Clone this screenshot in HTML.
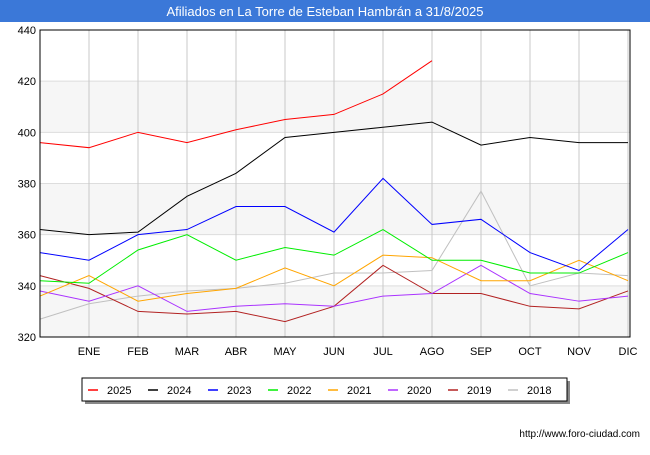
<!DOCTYPE html>
<html><head><meta charset="utf-8"><style>
body{margin:0;background:#fff;font-family:"Liberation Sans",sans-serif}
</style></head><body>
<svg width="650" height="450" xmlns="http://www.w3.org/2000/svg" font-family="Liberation Sans, sans-serif">
<rect x="0" y="0" width="650" height="22" fill="#3b78d8"/>
<text x="325" y="16" font-size="13" fill="#fff" text-anchor="middle">Afiliados en La Torre de Esteban Hambrán a 31/8/2025</text>
<g id="bands"></g><g id="grid"></g><g id="series"></g>
<rect x="40" y="30" width="590" height="307" fill="none" stroke="#000" stroke-width="1"/>
<g id="ticks" font-size="11"></g>
<rect x="85" y="381" width="485" height="23" fill="#888"/>
<rect x="82" y="378" width="485" height="23" fill="#fff" stroke="#000"/>
<g id="legend" font-size="11"></g>
<text x="640" y="437" font-size="10" text-anchor="end" fill="#000">http://www.foro-ciudad.com</text>
</svg>
<script>
const months=["","ENE","FEB","MAR","ABR","MAY","JUN","JUL","AGO","SEP","OCT","NOV","DIC"];
const yTicks=[320,340,360,380,400,420,440];
const seriesNames=["2025","2024","2023","2022","2021","2020","2019","2018"];
const seriesColors=["#ff0000","#000000","#0000ff","#00ee00","#ffa500","#aa33ff","#b22222","#c0c0c0"];
const s2025=[396,394,400,396,401,405,407,415,428];
const s2024=[362,360,361,375,384,398,400,402,404,395,398,396,396];
const s2023=[353,350,360,362,371,371,361,382,364,366,353,346,362];
const s2022=[342,341,354,360,350,355,352,362,350,350,345,345,353];
const s2021=[336,344,334,337,339,347,340,352,351,342,342,350,342];
const s2020=[338,334,340,330,332,333,332,336,337,348,337,334,336];
const s2019=[344,339,330,329,330,326,332,348,337,337,332,331,338];
const s2018=[327,333,336,338,339,341,345,345,346,377,340,345,344];
const allSeries=[s2025,s2024,s2023,s2022,s2021,s2020,s2019,s2018];
const NS="http://www.w3.org/2000/svg";
const X=i=>40+i*49;
const Y=v=>337-(v-320)*307/120;
function mk(t,a,p){const e=document.createElementNS(NS,t);for(const k in a)e.setAttribute(k,a[k]);p.appendChild(e);return e;}
const bands=document.getElementById('bands'),grid=document.getElementById('grid'),ticks=document.getElementById('ticks'),ser=document.getElementById('series'),leg=document.getElementById('legend');
for(let i=0;i<yTicks.length-1;i+=2){const r=mk('rect',{x:40,y:Y(yTicks[i+1]),width:590,height:Y(yTicks[i])-Y(yTicks[i+1]),fill:'#f6f6f6'},bands);

}
yTicks.forEach(v=>{const l=mk('line',{x1:40,x2:630,y1:Y(v),y2:Y(v),stroke:'#ddd'},grid);


const t=mk('text',{x:36,y:Y(v)+4,'text-anchor':'end',fill:'#000'},ticks);t.textContent=v;

});
months.forEach((m,i)=>{if(i>0){const l=mk('line',{x1:X(i),x2:X(i),y1:30,y2:337,stroke:'#c8c8c8'},grid);

}
if(m){const t=mk('text',{x:X(i),y:355,'text-anchor':'middle',fill:'#000'},ticks);t.textContent=m;

}});
for(let k=allSeries.length-1;k>=0;k--){const d=allSeries[k].map((v,i)=>X(i)+','+Y(v)).join(' ');
const p=mk('polyline',{points:d,fill:'none',stroke:seriesColors[k],'stroke-width':1},ser);

}
seriesNames.forEach((n,k)=>{const x=88+k*60;const l=mk('line',{x1:x,x2:x+10,y1:390,y2:390,stroke:seriesColors[k],'stroke-width':1.5},leg);


const t=mk('text',{x:x+19,y:394,fill:'#000'},leg);t.textContent=n;

});
</script>
</body></html>
